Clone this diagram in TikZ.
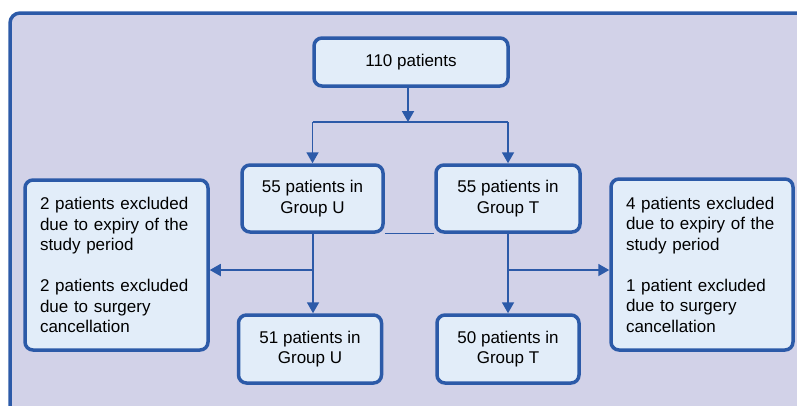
\documentclass[tikz,border=0pt]{standalone}
\usepackage{fontspec}
\setmainfont{Liberation Sans}
\usetikzlibrary{arrows.meta}
\definecolor{frameblue}{HTML}{2C5AA8}
\definecolor{bgl}{HTML}{D2D2E8}
\definecolor{boxfill}{HTML}{E2EDF9}
\begin{document}
\begin{tikzpicture}[x=1pt,y=-1pt,
 box/.style={draw=frameblue, line width=3.5pt, fill=boxfill, rounded corners=8pt, inner sep=0pt, align=center, font=\fontsize{17}{20.5}\selectfont},
 sidebox/.style={box, align=left, text width=153pt, inner xsep=15pt},
 conn/.style={draw=frameblue, line width=1.8pt},
 arr/.style={conn, -{Triangle[length=11pt,width=12pt]}},
]
\useasboundingbox (0,0) rectangle (797,405);
\begin{scope}
\clip (0,0) rectangle (797,405);
\draw[frameblue, line width=3.5pt, fill=bgl, rounded corners=10pt] (10,13) rectangle (830,440);
\end{scope}

\node[box, minimum width=194pt, minimum height=48pt] (top) at (411,62) {110 patients};
\node[box, minimum width=141pt, minimum height=67pt] (U) at (312.5,198.5) {55 patients in\\Group U};
\node[box, minimum width=144pt, minimum height=67pt] (T) at (508,198.5) {55 patients in\\Group T};
\node[sidebox, minimum height=170pt] (L) at (116.5,265) {2 patients excluded\\due to expiry of the\\study period\\[20.5pt]2 patients excluded\\due to surgery\\cancellation};
\node[sidebox, minimum height=171pt, text width=152pt] (R) at (702,264.5) {4 patients excluded\\due to expiry of the\\study period\\[20.5pt]1 patient excluded\\due to surgery\\cancellation};
\node[box, minimum width=143pt, minimum height=68pt] (U2) at (310,349) {51 patients in\\Group U};
\node[box, minimum width=142pt, minimum height=68pt] (T2) at (508,349) {50 patients in\\Group T};

\coordinate (split) at (408,122);
\coordinate (bu) at (313,270);
\coordinate (bt) at (508,270);

\draw[conn] (split -| U.north) -- (split -| T.north);
\draw[arr] (top.south -| split) -- (split);
\draw[arr] (split -| U.north) -- (U.north);
\draw[arr] (split -| T.north) -- (T.north);

\draw[frameblue, line width=1pt] (U.south east) -- (T.south west);

\draw[conn] (U.south -| bu) -- (bu);
\draw[arr] (bu) -- (bu -| L.east);
\draw[arr] (bu) -- (bu |- U2.north);

\draw[conn] (T.south) -- (bt);
\draw[arr] (bt) -- (bt -| R.west);
\draw[arr] (bt) -- (T2.north);
\end{tikzpicture}
\end{document}
